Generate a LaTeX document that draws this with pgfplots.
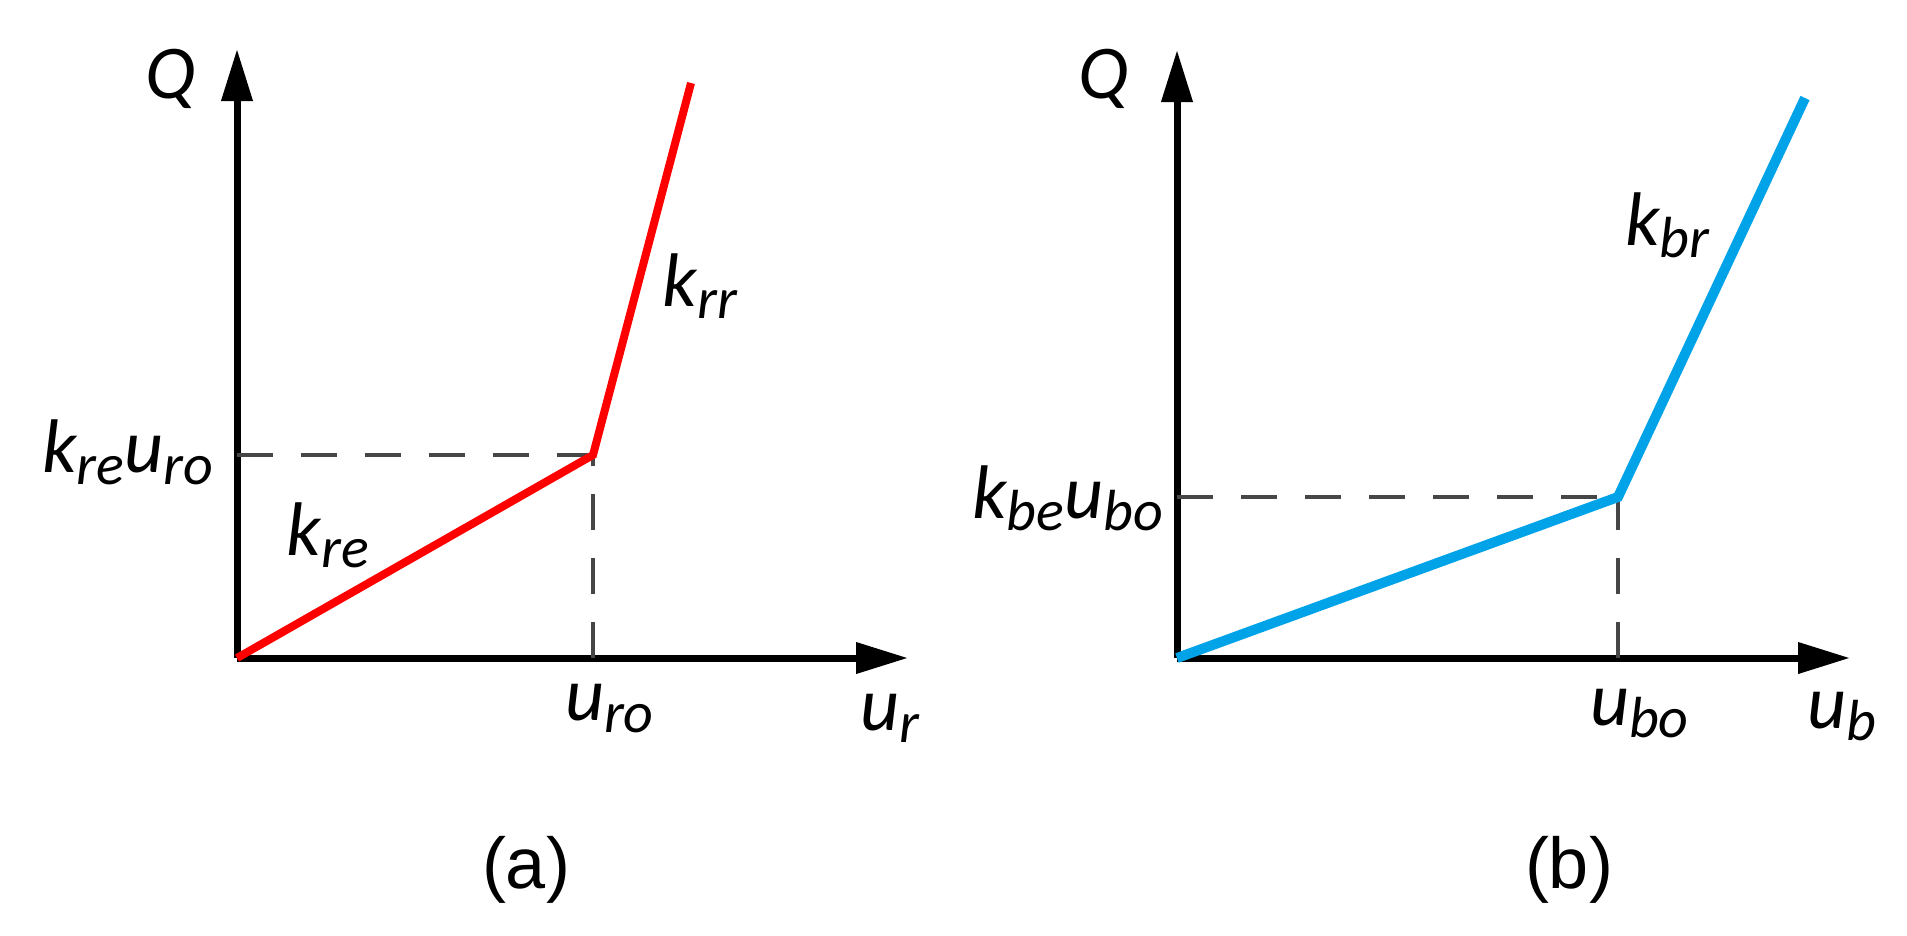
\documentclass[border=0pt]{standalone}
\usepackage{pgfplots}
\pgfplotsset{compat=1.18}
\usetikzlibrary{arrows.meta}
\usepackage{fontspec}
\setmainfont{Liberation Sans}
\newfontfamily\lbl{Carlito}

\definecolor{lineblue}{RGB}{0,162,232}
\definecolor{dashgray}{RGB}{70,70,70}

% symbol with a subscript, set in Carlito italic
\newcommand{\sym}[2]{{\lbl\itshape\fontsize{19}{19}\selectfont #1\raisebox{-3pt}{\fontsize{14.5}{14.5}\selectfont #2}}}
\newcommand{\bigQ}{{\lbl\itshape\fontsize{19}{19}\selectfont Q}}

\pgfplotsset{
  sketch/.style={
    scale only axis, clip=false,
    axis lines=left, ticks=none,
    xmin=0, ymin=0,
    axis line style={line width=1.75pt, -{Triangle[length=13pt,width=7.5pt]}},
  },
  guide/.style={dashgray, line width=1pt, dash pattern=on 9pt off 7pt},
}
\tikzset{lab/.style={inner sep=0pt, outer sep=0pt}}

\begin{document}
\begin{tikzpicture}
% 1 px of the reference = 0.25pt
\path[use as bounding box] (0,0) rectangle (476.75pt,233.75pt);

% (a)
\begin{axis}[sketch, at={(59.25pt,69.25pt)}, anchor=origin,
  width=167.75pt, height=152.25pt, xmax=671, ymax=609]
\addplot[guide] coordinates {(0,203) (356,203)};
\addplot[guide] coordinates {(356,0) (356,203)};
\addplot[red, line width=2pt] coordinates {(0,0) (356,203) (454,575)};
\node[lab, anchor=base west] at (axis cs:-92,560) {\bigQ};
\node[lab, anchor=base east] at (axis cs:-24,186) {\sym{k}{re}\sym{u}{ro}};
\node[lab] at (axis cs:91,123) {\sym{k}{re}};
\node[lab] at (axis cs:463,372) {\sym{k}{rr}};
\node[lab, anchor=base west] at (axis cs:328,-62) {\sym{u}{ro}};
\node[lab, anchor=base west] at (axis cs:623,-72) {\sym{u}{r}};
\node[lab] at (axis cs:289,-212) {\fontsize{18}{18}\selectfont (a)};
\end{axis}

% (b)
\begin{axis}[sketch, at={(294.25pt,69.25pt)}, anchor=origin,
  width=168.25pt, height=152pt, xmax=673, ymax=608]
\addplot[guide] coordinates {(0,161) (441,161)};
\addplot[guide] coordinates {(441,0) (441,161)};
\addplot[lineblue, line width=2.5pt] coordinates {(0,0) (441,161) (628,560)};
\node[lab, anchor=base west] at (axis cs:-99,560) {\bigQ};
\node[lab, anchor=base east] at (axis cs:-14,140) {\sym{k}{be}\sym{u}{bo}};
\node[lab, anchor=base west] at (axis cs:448,413) {\sym{k}{br}};
\node[lab, anchor=base west] at (axis cs:413,-67) {\sym{u}{bo}};
\node[lab, anchor=base west] at (axis cs:630,-70) {\sym{u}{b}};
\node[lab] at (axis cs:392,-212) {\fontsize{18}{18}\selectfont (b)};
\end{axis}
\end{tikzpicture}
\end{document}
